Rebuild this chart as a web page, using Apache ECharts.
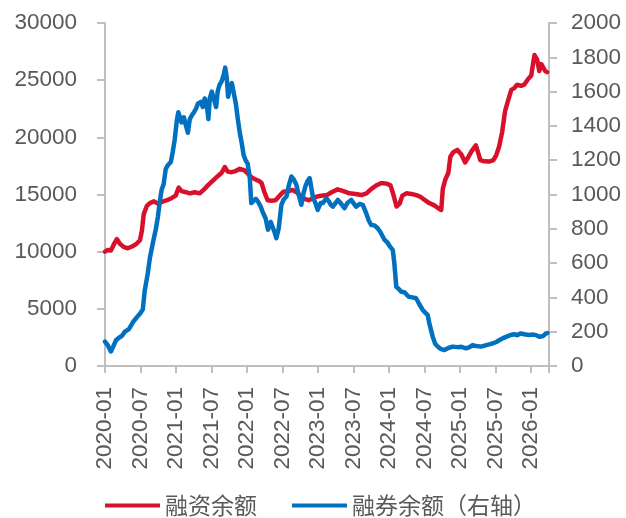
<!DOCTYPE html>
<html>
<head>
<meta charset="utf-8">
<script src="https://cdn.jsdelivr.net/npm/echarts@6/dist/echarts.min.js"></script>
<style>
  html, body { margin: 0; padding: 0; background: #fff; }
  #chart { width: 626px; height: 518px; }
</style>
</head>
<body>
<div id="chart"></div>
<script>
// 融资余额 (left axis)
const marginDates = [
  '2020-01-01','2020-01-16','2020-02-01','2020-02-17','2020-03-01','2020-03-17','2020-04-07','2020-04-27',
  '2020-05-18','2020-06-08','2020-06-28','2020-07-08','2020-07-18','2020-08-03','2020-08-19','2020-09-09',
  '2020-09-29','2020-10-19','2020-11-15','2020-12-10','2020-12-30','2021-01-15','2021-01-30','2021-02-20',
  '2021-03-11','2021-04-06','2021-05-01','2021-05-21','2021-06-12','2021-07-07','2021-08-02','2021-08-23',
  '2021-09-08','2021-09-23','2021-10-13','2021-11-03','2021-11-24','2021-12-04','2021-12-19','2022-01-04',
  '2022-01-24','2022-02-14','2022-02-28','2022-03-15','2022-03-30','2022-04-15','2022-05-06','2022-05-26',
  '2022-06-16','2022-07-06','2022-08-02','2022-08-22','2022-09-12','2022-10-07','2022-10-27','2022-11-13',
  '2022-12-03','2022-12-23','2023-01-18','2023-02-14','2023-03-10','2023-04-10','2023-05-10','2023-06-10',
  '2023-07-10','2023-08-11','2023-09-06','2023-10-01','2023-10-27','2023-11-22','2023-12-18','2024-01-08',
  '2024-01-23','2024-02-08','2024-02-23','2024-03-08','2024-03-29','2024-04-24','2024-05-19','2024-06-09',
  '2024-06-29','2024-07-25','2024-08-20','2024-09-10','2024-09-25','2024-10-03','2024-10-16','2024-11-01',
  '2024-11-11','2024-11-26','2024-12-17','2025-01-07','2025-01-27','2025-02-12','2025-02-27','2025-03-21',
  '2025-04-03','2025-04-13','2025-05-03','2025-05-29','2025-06-19','2025-07-04','2025-07-19','2025-08-04',
  '2025-08-19','2025-09-05','2025-09-20','2025-10-05','2025-10-20','2025-11-10','2025-11-25','2025-12-16',
  '2026-01-01','2026-01-11','2026-01-18','2026-02-01','2026-02-11','2026-02-21','2026-03-02','2026-03-12',
  '2026-03-22'
];
const marginValues = [
  10000,10150,10100,10700,11100,10700,10400,10300,
  10450,10650,11000,11800,13300,14000,14250,14400,
  14200,14350,14500,14700,14900,15600,15300,15200,
  15100,15200,15100,15400,15800,16200,16600,16900,
  17400,17000,16950,17050,17250,17300,17100,16850,
  16500,16300,16200,16000,15200,14500,14450,14500,
  14900,15250,15300,15400,15200,14800,14600,14500,
  14650,14800,14900,14950,15200,15450,15300,15100,
  15050,14950,15100,15500,15800,16000,15950,15800,
  15000,13950,14200,14900,15100,15050,14950,14800,
  14550,14250,14050,13800,13650,15500,16300,16900,
  18300,18700,18900,18500,17800,18300,18800,19300,
  18600,18000,17900,17880,18000,18450,19200,20500,
  22300,23300,24150,24300,24600,24500,24600,25100,
  25400,26500,27200,26800,25800,26400,26300,25800,
  25700
];

// 融券余额 (right axis)
const shortDates = [
  '2020-01-01','2020-01-16','2020-02-01','2020-02-11','2020-02-26','2020-03-12','2020-03-27','2020-04-12',
  '2020-05-02','2020-05-23','2020-06-13','2020-06-28','2020-07-13','2020-07-23','2020-08-08','2020-08-19',
  '2020-09-04','2020-09-19','2020-09-29','2020-10-09','2020-10-19','2020-10-29','2020-11-09','2020-11-19',
  '2020-12-05','2020-12-15','2020-12-25','2021-01-05','2021-01-13','2021-01-20','2021-01-30','2021-02-10',
  '2021-02-20','2021-03-01','2021-03-11','2021-03-21','2021-04-02','2021-04-12','2021-04-22','2021-05-07',
  '2021-05-17','2021-05-27','2021-06-07','2021-06-15','2021-06-22','2021-07-02','2021-07-12','2021-07-25',
  '2021-08-02','2021-08-12','2021-08-23','2021-09-03','2021-09-10','2021-09-18','2021-09-25','2021-10-04',
  '2021-10-14','2021-10-24','2021-11-04','2021-11-14','2021-11-24','2021-12-04','2021-12-14','2021-12-24',
  '2022-01-04','2022-01-15','2022-01-23','2022-01-30','2022-02-14','2022-02-24','2022-03-10','2022-03-20',
  '2022-04-05','2022-04-17','2022-05-01','2022-05-11','2022-05-21','2022-05-30','2022-06-11','2022-06-25',
  '2022-07-06','2022-07-22','2022-08-02','2022-08-16','2022-08-27','2022-09-10','2022-09-22','2022-10-06',
  '2022-10-18','2022-10-28','2022-11-08','2022-11-18','2022-11-28','2022-12-05','2022-12-18','2022-12-30',
  '2023-01-14','2023-01-25','2023-02-12','2023-02-24','2023-03-05','2023-03-16','2023-03-30','2023-04-11',
  '2023-04-25','2023-05-15','2023-05-30','2023-06-19','2023-06-30','2023-07-14','2023-08-01','2023-08-18',
  '2023-09-05','2023-09-17','2023-09-30','2023-10-17','2023-11-03','2023-11-17','2023-12-08','2023-12-23',
  '2024-01-03','2024-01-20','2024-01-28','2024-02-07','2024-02-18','2024-03-02','2024-03-19','2024-04-10',
  '2024-04-29','2024-05-18','2024-06-04','2024-06-21','2024-07-05','2024-07-17','2024-07-25','2024-08-12',
  '2024-08-25','2024-09-07','2024-09-21','2024-10-11','2024-11-01','2024-11-23','2024-12-17','2025-01-07',
  '2025-02-01','2025-02-17','2025-03-04','2025-03-23','2025-04-17','2025-05-09','2025-05-29','2025-06-15',
  '2025-07-04','2025-07-19','2025-08-06','2025-08-24','2025-09-18','2025-10-05','2025-10-20','2025-11-09',
  '2025-11-25','2025-12-21','2026-01-11','2026-01-26','2026-02-11','2026-02-20','2026-03-02','2026-03-16',
  '2026-03-24'
];
const shortValues = [
  142,120,85,110,150,165,175,200,
  215,255,285,305,330,440,540,630,
  720,800,870,960,1030,1060,1150,1170,
  1190,1250,1320,1430,1480,1470,1420,1450,
  1400,1360,1440,1460,1480,1500,1530,1540,
  1510,1560,1520,1440,1560,1600,1560,1510,
  1600,1640,1660,1700,1740,1680,1570,1620,
  1650,1640,1530,1440,1360,1300,1230,1200,
  1180,1100,950,940,975,960,930,900,
  860,795,840,830,780,745,800,940,
  970,990,1050,1105,1090,1060,1000,940,
  1010,1050,1080,1095,1030,985,950,910,
  950,950,978,960,940,929,950,968,
  950,920,950,968,950,929,945,939,
  890,850,822,820,803,780,735,720,
  700,676,600,462,450,433,430,404,
  400,395,360,327,310,297,250,171,
  130,113,100,93,105,113,110,112,
  103,110,122,116,113,120,126,132,
  140,150,161,170,181,185,180,190,
  185,181,183,180,170,161,175,190,
  192
];

// x axis: months elapsed since 2020-01, labelled every half year
const startYear = 2020;
const axisMonths = 75;
const tickMonths = 6;

function monthOffset(s) {
  const [y, m, d] = s.split('-').map(Number);
  const days = new Date(y, m, 0).getDate();
  return (y - startYear) * 12 + (m - 1) + (d - 1) / days;
}
function monthLabel(v) {
  const y = startYear + Math.floor(v / 12);
  const m = v % 12 + 1;
  return y + '-' + (m < 10 ? '0' + m : m);
}
const pairs = (dates, vals) => dates.map((d, i) => [monthOffset(d), vals[i]]);

const FONT = "'Liberation Sans', Arial, 'Noto Sans CJK SC', sans-serif";
const axisGray = '#bfbfbf';
const textGray = '#595959';

const chart = echarts.init(document.getElementById('chart'), null, { renderer: 'canvas' });
chart.setOption({
  animation: false,
  backgroundColor: '#ffffff',
  grid: { left: 105, right: 77, top: 23, bottom: 152, containLabel: false },
  legend: {
    left: 100, top: 489, itemGap: 35, itemWidth: 55, itemHeight: 4,
    icon: 'rect',
    textStyle: { fontFamily: "'Noto Sans CJK SC', sans-serif", fontSize: 23, color: textGray },
    data: ['融资余额', '融券余额（右轴）']
  },
  xAxis: {
    type: 'value', min: 0, max: axisMonths, interval: tickMonths,
    splitLine: { show: false },
    axisLine: { lineStyle: { color: axisGray, width: 2 } },
    axisTick: { length: 7, lineStyle: { color: axisGray, width: 2 } },
    axisLabel: {
      rotate: 90, margin: 21, fontFamily: FONT, fontSize: 22.5, color: textGray,
      formatter: v => (v % tickMonths === 0 && v < axisMonths) ? monthLabel(v) : ''
    }
  },
  yAxis: [
    {
      type: 'value', min: 0, max: 30000, interval: 5000, position: 'left',
      splitLine: { show: false },
      axisLine: { show: true, lineStyle: { color: axisGray, width: 2 } },
      axisTick: { show: true, length: 8, lineStyle: { color: axisGray, width: 2 } },
      axisLabel: { margin: 28, fontFamily: FONT, fontSize: 22.5, color: textGray, formatter: v => String(v) }
    },
    {
      type: 'value', min: 0, max: 2000, interval: 200, position: 'right',
      splitLine: { show: false },
      axisLine: { show: true, lineStyle: { color: axisGray, width: 2 } },
      axisTick: { show: true, length: 8, lineStyle: { color: axisGray, width: 2 } },
      axisLabel: { margin: 22, fontFamily: FONT, fontSize: 22.5, color: textGray, formatter: v => String(v) }
    }
  ],
  series: [
    {
      name: '融资余额', type: 'line', yAxisIndex: 0,
      data: pairs(marginDates, marginValues),
      showSymbol: false, color: '#d9102b',
      lineStyle: { width: 4.5, color: '#d9102b', join: 'round', cap: 'round' }
    },
    {
      name: '融券余额（右轴）', type: 'line', yAxisIndex: 1,
      data: pairs(shortDates, shortValues),
      showSymbol: false, color: '#0070c0',
      lineStyle: { width: 4.5, color: '#0070c0', join: 'round', cap: 'round' }
    }
  ]
});
</script>
</body>
</html>
